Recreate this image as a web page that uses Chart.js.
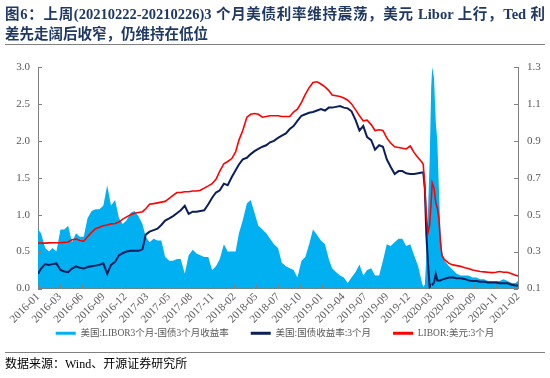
<!DOCTYPE html>
<html><head><meta charset="utf-8">
<script src="https://cdn.jsdelivr.net/npm/chart.js@4.4.1/dist/chart.umd.min.js"></script>
<style>
html,body{margin:0;padding:0;background:#fff;}
#wrap{position:relative;width:550px;height:378px;overflow:hidden;}
#c{position:absolute;left:0;top:0;}
.title{position:absolute;left:5px;width:540px;font-family:"Liberation Serif","Noto Sans CJK SC",serif;font-weight:bold;font-size:14.5px;color:#1F3864;line-height:20px;}
#t1{top:4px;text-align:justify;text-align-last:justify;}
#t2{top:24px;}
.rule{position:absolute;left:5px;width:540px;height:1px;background:#808080;}
#src{position:absolute;left:5px;top:354px;font-family:"Liberation Serif","Noto Sans CJK SC",serif;font-size:12px;color:#000;}
</style></head>
<body>
<div id="wrap">
<canvas id="c" width="550" height="378"></canvas>
<div class="title" id="t1">图6：上周(20210222-20210226)3 个月美债利率维持震荡，美元 Libor 上行，Ted 利</div>
<div class="title" id="t2">差先走阔后收窄，仍维持在低位</div>
<div class="rule" style="top:44px"></div>
<div class="rule" style="top:352px"></div>
<div id="src">数据来源：Wind、开源证券研究所</div>
</div>
<script>
const dates = ['2016-01-04','2016-01-16','2016-02-01','2016-02-16','2016-03-01','2016-03-16','2016-04-01','2016-04-16','2016-05-01','2016-05-16','2016-06-01','2016-06-16','2016-07-01','2016-07-16','2016-08-01','2016-08-16','2016-09-01','2016-09-16','2016-10-01','2016-10-16','2016-11-01','2016-11-16','2016-12-01','2016-12-16',
'2017-01-01','2017-01-16','2017-02-01','2017-02-16','2017-03-01','2017-03-16','2017-04-01','2017-04-16','2017-05-01','2017-05-16','2017-06-01','2017-06-16','2017-07-01','2017-07-16','2017-08-01','2017-08-16','2017-09-01','2017-09-16','2017-10-01','2017-10-16','2017-11-01','2017-11-16','2017-12-01','2017-12-16',
'2018-01-01','2018-01-16','2018-02-01','2018-02-16','2018-03-01','2018-03-16','2018-04-01','2018-04-16','2018-05-01','2018-05-16','2018-06-01','2018-06-16','2018-07-01','2018-07-16','2018-08-01','2018-08-16','2018-09-01','2018-09-16','2018-10-01','2018-10-16','2018-11-01','2018-11-16','2018-12-01','2018-12-16',
'2019-01-01','2019-01-16','2019-02-01','2019-02-16','2019-03-01','2019-03-16','2019-04-01','2019-04-16','2019-05-01','2019-05-16','2019-06-01','2019-06-16','2019-07-01','2019-07-16','2019-08-01','2019-08-16','2019-09-01','2019-09-16','2019-10-01','2019-10-16','2019-11-01','2019-11-16','2019-12-01','2019-12-16',
'2020-01-01','2020-01-16','2020-02-01','2020-02-16','2020-02-21','2020-02-27','2020-03-04','2020-03-10','2020-03-17','2020-03-23','2020-03-27','2020-04-03','2020-04-10','2020-04-16','2020-04-22','2020-04-28','2020-05-04','2020-05-14','2020-06-01','2020-06-16','2020-07-01','2020-07-16','2020-08-01','2020-08-16','2020-09-01','2020-09-16','2020-10-01','2020-10-16','2020-11-01','2020-11-16','2020-12-01','2020-12-16',
'2021-01-01','2021-01-16','2021-02-01','2021-02-16','2021-02-26'];

// 美国:LIBOR3个月-国债3个月收益率 (right axis)
const spread = [0.42,0.40,0.32,0.30,0.32,0.30,0.42,0.42,0.44,0.35,0.40,0.38,0.38,0.48,0.52,0.53,0.53,0.55,0.66,0.55,0.58,0.48,0.45,0.47,
0.51,0.52,0.49,0.45,0.38,0.35,0.37,0.36,0.36,0.27,0.25,0.25,0.26,0.26,0.18,0.28,0.31,0.29,0.28,0.27,0.27,0.20,0.22,0.26,
0.34,0.30,0.30,0.30,0.40,0.47,0.56,0.58,0.51,0.44,0.42,0.40,0.37,0.34,0.32,0.24,0.22,0.21,0.20,0.16,0.25,0.27,0.34,0.42,
0.39,0.36,0.34,0.26,0.21,0.19,0.17,0.16,0.13,0.16,0.19,0.23,0.17,0.20,0.21,0.17,0.17,0.25,0.34,0.33,0.35,0.37,0.37,0.33,
0.34,0.28,0.22,0.13,0.11,0.12,0.27,0.50,0.79,1.19,1.30,1.24,1.00,0.90,0.65,0.42,0.30,0.25,0.22,0.20,0.18,0.17,0.17,0.17,0.16,0.16,0.15,0.15,0.14,0.14,0.14,0.14,
0.15,0.14,0.13,0.13,0.14];

// 美国:国债收益率:3个月 (left axis)
const tbill = [0.20,0.27,0.33,0.32,0.33,0.34,0.25,0.23,0.22,0.27,0.30,0.28,0.27,0.29,0.30,0.31,0.32,0.34,0.20,0.32,0.36,0.45,0.48,0.50,
0.51,0.51,0.51,0.53,0.73,0.77,0.79,0.81,0.86,0.92,0.95,0.98,1.02,1.06,1.12,1.01,1.04,1.04,1.05,1.06,1.14,1.23,1.30,1.33,
1.42,1.40,1.51,1.60,1.68,1.75,1.77,1.82,1.86,1.89,1.92,1.94,1.98,2.00,2.04,2.07,2.10,2.16,2.20,2.27,2.34,2.36,2.38,2.39,
2.41,2.43,2.41,2.45,2.45,2.46,2.47,2.45,2.44,2.40,2.28,2.14,2.20,2.05,2.01,1.88,1.94,1.92,1.75,1.65,1.55,1.59,1.59,1.56,
1.55,1.55,1.56,1.57,1.57,1.36,0.73,0.36,0.02,0.05,0.05,0.08,0.20,0.11,0.11,0.11,0.12,0.13,0.15,0.15,0.14,0.14,0.13,0.11,0.10,0.10,0.09,0.09,0.08,0.08,0.08,0.07,
0.07,0.07,0.05,0.04,0.04];

// LIBOR:美元:3个月 (left axis)
const libor = [0.614,0.614,0.614,0.618,0.62,0.62,0.62,0.625,0.63,0.66,0.67,0.65,0.64,0.70,0.76,0.81,0.83,0.85,0.86,0.875,0.88,0.90,0.94,0.97,
1.00,1.02,1.03,1.04,1.08,1.14,1.15,1.16,1.17,1.18,1.22,1.26,1.30,1.30,1.31,1.31,1.32,1.32,1.33,1.36,1.39,1.42,1.48,1.59,
1.69,1.72,1.76,1.85,2.01,2.14,2.32,2.36,2.37,2.36,2.32,2.33,2.34,2.34,2.34,2.33,2.33,2.33,2.39,2.43,2.52,2.63,2.72,2.79,
2.80,2.77,2.73,2.68,2.62,2.61,2.60,2.58,2.55,2.50,2.42,2.34,2.27,2.28,2.22,2.14,2.15,2.14,2.04,1.97,1.92,1.91,1.90,1.89,
1.93,1.84,1.77,1.71,1.68,1.36,1.00,0.75,0.86,1.18,1.43,1.36,1.16,1.09,0.95,0.64,0.45,0.39,0.34,0.32,0.31,0.30,0.28,0.27,0.25,0.24,0.23,0.225,0.22,0.215,0.22,0.23,
0.22,0.22,0.20,0.18,0.17];

const tickLabels = ['2016-01','2016-03','2016-06','2016-09','2016-12','2017-03','2017-05','2017-08','2017-11','2018-02','2018-05','2018-07','2018-10','2019-01','2019-04','2019-07','2019-09','2019-12','2020-03','2020-06','2020-09','2020-11','2021-02'];
const leftTicks = [0, 0.5, 1.0, 1.5, 2.0, 2.5, 3.0];
const rightTicks = [0.1, 0.3, 0.5, 0.7, 0.9, 1.1, 1.3];

const labels = ['美国:LIBOR3个月-国债3个月收益率', '美国:国债收益率:3个月', 'LIBOR:美元:3个月'];

const toDay = s => Date.UTC(+s.slice(0,4), +s.slice(5,7)-1, +s.slice(8,10)) / 864e5;
const xs = dates.map(toDay);
const xmin = xs[0], xmax = xs[xs.length-1];
const tickPos = tickLabels.map((_, i) => xmin + i * (xmax - xmin) / (tickLabels.length - 1));
const pts = arr => arr.map((v, i) => ({x: xs[i], y: v}));

const AX = '#808080';
const TXT = '#595959';
const FONT = "'Liberation Serif','Noto Sans CJK SC',serif";

const innerTicks = {
  id: 'innerTicks',
  beforeDraw(chart) {
    // let the rotated x labels run below the (short) axis box
    chart.scales.x._computeLabelArea = () => undefined;
  },
  afterDatasetsDraw(chart) {
    const {ctx, chartArea: a, scales} = chart;
    ctx.save();
    ctx.strokeStyle = AX; ctx.lineWidth = 1;
    ctx.beginPath();
    scales.y.ticks.forEach(t => { const p = Math.round(scales.y.getPixelForValue(t.value)) + 0.5; ctx.moveTo(a.left, p); ctx.lineTo(a.left + 4, p); });
    scales.y1.ticks.forEach(t => { const p = Math.round(scales.y1.getPixelForValue(t.value)) + 0.5; ctx.moveTo(a.right - 4, p); ctx.lineTo(a.right, p); });
    scales.x.ticks.forEach(t => { const p = Math.round(scales.x.getPixelForValue(t.value)) + 0.5; ctx.moveTo(p, a.bottom); ctx.lineTo(p, a.bottom - 4); });
    ctx.stroke();
    ctx.restore();
  }
};

new Chart(document.getElementById('c'), {
  type: 'line',
  data: {
    datasets: [
      {label: labels[0], data: pts(spread), yAxisID: 'y1', borderWidth: 0, borderColor: 'rgba(0,0,0,0)', backgroundColor: '#00B0F0', fill: 'start', pointRadius: 0, order: 3},
      {label: labels[1], data: pts(tbill), yAxisID: 'y', borderColor: '#0C1E5B', backgroundColor: '#0C1E5B', borderWidth: 2, fill: false, pointRadius: 0, order: 2},
      {label: labels[2], data: pts(libor), yAxisID: 'y', borderColor: '#FF0000', backgroundColor: '#FF0000', borderWidth: 1.6, fill: false, pointRadius: 0, order: 1}
    ]
  },
  options: {
    responsive: false,
    animation: false,
    devicePixelRatio: 1,
    layout: {padding: {top: 67, bottom: 30, left: 0, right: 0}},
    plugins: {
      tooltip: {enabled: false},
      legend: {
        position: 'bottom', align: 'center',
        labels: {
          boxWidth: 20, boxHeight: 3, padding: 22, color: TXT,
          font: {family: FONT, size: 9.5},
          generateLabels: chart => chart.data.datasets.map((ds, i) => ({
            text: ds.label, fillStyle: i === 0 ? ds.backgroundColor : ds.borderColor,
            strokeStyle: 'rgba(0,0,0,0)', lineWidth: 0, hidden: false, datasetIndex: i, fontColor: TXT
          }))
        }
      }
    },
    scales: {
      x: {
        type: 'linear', min: xmin, max: xmax,
        afterBuildTicks: s => { s.ticks = tickPos.map(v => ({value: v})); },
        afterFit: s => { s.height = 18; },
        ticks: {autoSkip: false, minRotation: 45, maxRotation: 45, padding: 2, color: TXT,
          font: {family: FONT, size: 11}, callback: (v, i) => tickLabels[i]},
        grid: {display: true, drawOnChartArea: false, drawTicks: false},
        border: {display: true, color: AX}
      },
      y: {
        position: 'left', min: 0, max: 3,
        afterBuildTicks: s => { s.ticks = leftTicks.map(v => ({value: v})); },
        afterFit: s => { s.width = 38; },
        ticks: {padding: 8, color: TXT, font: {family: FONT, size: 11}, callback: v => Number(v).toFixed(1)},
        grid: {display: true, drawOnChartArea: false, drawTicks: false},
        border: {display: true, color: AX}
      },
      y1: {
        position: 'right', min: 0.1, max: 1.3,
        afterBuildTicks: s => { s.ticks = rightTicks.map(v => ({value: v})); },
        afterFit: s => { s.width = 32; },
        ticks: {padding: 9, color: TXT, font: {family: FONT, size: 11}, callback: v => Number(v).toFixed(1)},
        grid: {display: true, drawOnChartArea: false, drawTicks: false},
        border: {display: true, color: AX}
      }
    }
  },
  plugins: [innerTicks]
});
</script>
</body></html>
